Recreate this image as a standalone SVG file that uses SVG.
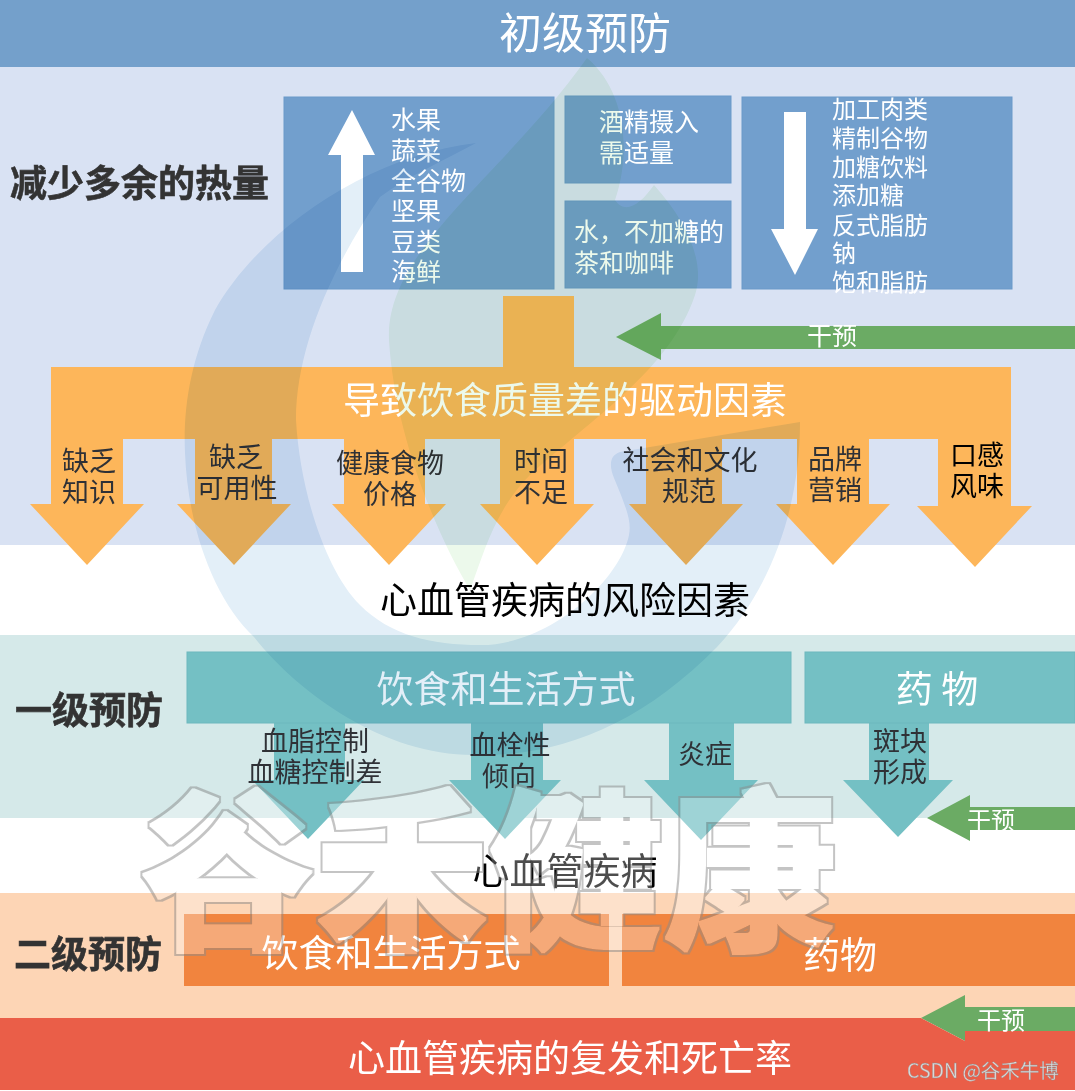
<svg xmlns="http://www.w3.org/2000/svg" width="1075" height="1091" viewBox="0 0 1075 1091">
<style>
text{font-family:"Noto Sans CJK SC","Noto Sans",sans-serif}
.w{fill:#fff}.k{fill:#2f3136}.b{fill:#000}
.h{font-weight:700;font-size:37px;fill:#333;stroke:#333;stroke-width:.6}
.s25{font-size:25px}.s24{font-size:24px}.s27{font-size:27px}.s37{font-size:37px}
.m{text-anchor:middle}
.box{fill:#729fcd;stroke:#6b99c9;stroke-width:1}
.tl{fill:#74c0c4;stroke:#6db8be;stroke-width:1}
.or{fill:#f1843e}
.oa{fill:#fdb65a}
.ta{fill:#74c0c4}
.ga{fill:#6bab64}
.wa{fill:#fff}
.mul{mix-blend-mode:multiply}
</style>
<defs>
<filter id="wmf" filterUnits="userSpaceOnUse" x="100" y="750" width="800" height="240" color-interpolation-filters="sRGB">
<feMorphology in="SourceAlpha" operator="dilate" radius="2.6" result="o"/>
<feMorphology in="SourceAlpha" operator="dilate" radius="1" result="i"/>
<feFlood flood-color="#8a8a8a" flood-opacity=".5"/>
<feComposite in2="o" operator="in" result="oc"/>
<feComposite in="oc" in2="i" operator="out" result="line"/>
<feFlood flood-color="#fff" flood-opacity=".3"/>
<feComposite in2="i" operator="in" result="fill"/>
<feMerge><feMergeNode in="fill"/><feMergeNode in="line"/></feMerge>
</filter>
</defs>
<g id="bands">
<rect x="0" y="0" width="1075" height="1091" fill="#fff"/>
<rect x="0" y="67" width="1075" height="478" fill="#d9e2f3"/>
<rect x="0" y="635" width="1075" height="183" fill="#d5e9e9"/>
<rect x="0" y="893" width="1075" height="125" fill="#fdd5b5"/>
</g>
<g id="node-primary"><rect x="0" y="0" width="1075" height="67" fill="#74a0cb"/><text class="w m" x="585" y="49" font-size="43">初级预防</text></g>
<g id="node-reduce"><text class="h" x="10" y="197">减少多余的热量</text></g>
<g id="node-increase"><rect class="box" x="284" y="97" width="270" height="192"/>
<path class="wa" d="M352,110L375,155H363V272H341V155H328Z"/>
<g class="w s25"><text x="391" y="129">水果</text><text x="391" y="160">蔬菜</text><text x="391" y="190">全谷物</text><text x="391" y="220">坚果</text><text x="391" y="251">豆类</text><text x="391" y="281">海鲜</text></g></g>
<g id="node-alcohol"><rect class="box" x="565" y="96" width="166" height="87"/><g class="w s25"><text x="599" y="131">酒精摄入</text><text x="599" y="162">需适量</text></g></g>
<g id="node-water"><rect class="box" x="565" y="201" width="166" height="87"/><g class="w s25"><text x="574" y="241">水，不加糖的</text><text x="574" y="272">茶和咖啡</text></g></g>
<g id="node-decrease"><rect class="box" x="742" y="97" width="270" height="192"/>
<path class="wa" d="M784,112H806V229H818L795,275L771,229H784Z"/>
<g class="w s24"><text x="832" y="118">加工肉类</text><text x="832" y="147">精制谷物</text><text x="832" y="176">加糖饮料</text><text x="832" y="204">添加糖</text><text x="832" y="234">反式脂肪</text><text x="832" y="262">钠</text><text x="832" y="291">饱和脂肪</text></g></g>
<g id="connectors">
<path class="oa" d="M503,296H574V368H503Z"/>
<path class="oa" d="M51,438H123V504H144L87,565L30,504H51Z"/>
<path class="oa" d="M195,438H272V504H291L234,565L177,504H195Z"/>
<path class="oa" d="M344,438H425V504H446L389,565L332,504H344Z"/>
<path class="oa" d="M500,438H574V504H594L537,565L480,504H500Z"/>
<path class="oa" d="M646,438H722V504H743L686,565L629,504H646Z"/>
<path class="oa" d="M797,438H869V504H890L833,565L776,504H797Z"/>
<path class="oa" d="M938,438H1011V506H1032L975,567L917,506H938Z"/>
<path class="ta" d="M274,723H345V780H364L308,839L252,780H274Z"/>
<path class="ta" d="M471,723H543V780H561L505,839L449,780H471Z"/>
<path class="ta" d="M669,723H734V780H758L701,840L644,780H669Z"/>
<path class="ta" d="M869,723H929V780H953L898,837L843,780H869Z"/>
<path class="ga" d="M616,337L661,313V326H1075V349H661V360Z"/>
<path class="ga" d="M927,818L970,795V807H1075V830H970V841Z"/>
</g>
<g id="node-drivers"><rect class="oa" x="51" y="367" width="960" height="72"/><text class="w m" x="565" y="414" font-size="37">导致饮食质量差的驱动因素</text></g>
<g id="driver-labels" class="k s27">
<text class="m" x="89" y="471">缺乏</text><text class="m" x="89" y="502">知识</text>
<text class="m" x="236" y="467">缺乏</text><text class="m" x="237" y="498">可用性</text>
<text class="m" x="390" y="473">健康食物</text><text class="m" x="390" y="504">价格</text>
<text class="m" x="541" y="471">时间</text><text class="m" x="541" y="502">不足</text>
<text class="m" x="690" y="470">社会和文化</text><text class="m" x="689" y="501">规范</text>
<text class="m" x="835" y="469">品牌</text><text class="m" x="835" y="500">营销</text>
<text class="b m" x="977" y="465">口感</text><text class="b m" x="977" y="496">风味</text>
</g>
<g id="node-risk"><text class="b m s37" x="565" y="614">心血管疾病的风险因素</text></g>
<g id="node-first"><text class="h" x="15" y="724">一级预防</text></g>
<g id="node-diet1"><rect class="tl" x="187" y="652" width="604" height="71"/><text class="w m s37" x="506" y="703">饮食和生活方式</text></g>
<g id="node-drug1"><rect class="tl" x="805" y="652" width="270" height="71"/><text class="w m s37" x="937" y="703">药 物</text></g>
<g id="risk-labels" class="k s27">
<text class="m" x="315" y="751">血脂控制</text><text class="m" x="315" y="782">血糖控制差</text>
<text class="m" x="510" y="755">血栓性</text><text class="m" x="509" y="786">倾向</text>
<text class="m" x="705" y="764">炎症</text>
<text class="m" x="900" y="751">斑块</text><text class="m" x="900" y="782">形成</text>
</g>
<g id="node-cvd"><text class="b m s37" x="565" y="885">心血管疾病</text></g>
<g id="node-second"><text class="h" x="14" y="968">二级预防</text></g>
<g id="node-diet2"><rect class="or" x="184" y="914" width="425" height="72"/><text class="w m s37" x="391" y="967">饮食和生活方式</text></g>
<g id="node-drug2"><rect class="or" x="622" y="914" width="453" height="72"/><text class="w m s37" x="840" y="969">药物</text></g>
<g id="connector-secondary"><path class="ga" d="M921,1018L965,995V1007H1075V1031H965V1041Z"/></g>
<g id="node-death"><path fill="#ea5e48" d="M0,1018H921L965,1041V1031H1075V1090H0Z"/><text class="w m s37" x="570" y="1072">心血管疾病的复发和死亡率</text></g>
<g id="intervene-labels" class="w">
<text class="m s25" x="832" y="345">干预</text>
<text class="m s24" x="991" y="829">干预</text>
<text class="m s24" x="1001" y="1029">干预</text>
</g>
<g id="watermark">
<path class="mul" fill="#ecf9eb" d="M587,58C625,90 632,150 615,200C625,215 640,205 654,185C690,225 705,265 695,295C670,370 590,420 530,475C495,510 485,550 470,590C440,540 395,440 389,340C385,250 500,180 587,58Z"/>
<path class="mul" fill="#e3eff8" d="M476,143C370,155 260,230 215,310C190,360 183,410 185,453C188,530 215,600 254,637C300,695 385,755 473,755C560,757 640,725 717,647C770,590 800,510 800,422L620,452C608,456 610,468 614,478C625,505 632,520 629,535C620,580 550,645 481,645C430,645 390,635 360,605C325,570 300,490 296,420C296,350 330,270 380,197C410,175 445,160 476,143Z"/>
<text x="141" y="936" font-size="174" font-weight="900" filter="url(#wmf)">谷禾健康</text>
</g>
<g id="credit"><text x="907" y="1078" font-size="19.5" fill="#d9d9d9" stroke="#8a8a8a" stroke-width=".3">CSDN @谷禾牛博</text></g>
</svg>
